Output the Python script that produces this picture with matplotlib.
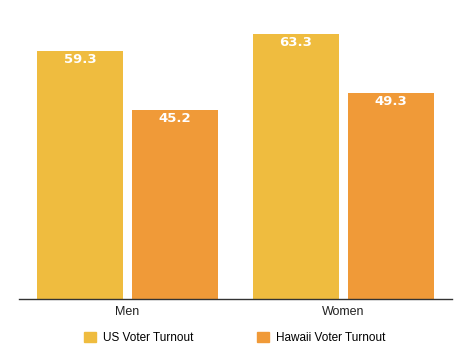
import matplotlib.pyplot as plt
import numpy as np
from matplotlib.patches import Patch

categories = ["Men", "Women"]
us_turnout = [59.3, 63.3]
hawaii_turnout = [45.2, 49.3]
series_names = ["US Voter Turnout", "Hawaii Voter Turnout"]

US_COLOR = "#EFBC3F"
HI_COLOR = "#F09A38"

plt.rcParams["font.family"] = ["Liberation Sans", "DejaVu Sans"]

fig = plt.figure(figsize=(4.74, 3.63), dpi=100)
ax = fig.add_axes([0.040, 0.176, 0.914, 0.807])

x = np.arange(len(categories))
w = 0.398
off = 0.22
b1 = ax.bar(x - off, us_turnout, w, color=US_COLOR)
b2 = ax.bar(x + off, hawaii_turnout, w, color=HI_COLOR)

# value labels, white, just inside the top of each bar
for bars, vals in [(b1, us_turnout), (b2, hawaii_turnout)]:
    for rect, v in zip(bars, vals):
        ax.text(rect.get_x() + rect.get_width() / 2, v - 2.1, f"{v:.1f}",
                ha="center", va="center", color="white", fontsize=9.5,
                fontweight="bold", family="DejaVu Sans")

ax.set_xlim(-0.502, 1.503)
ax.set_ylim(0, 70)
ax.set_xticks(x)
ax.set_xticklabels(categories, fontsize=9, color="#222222")
ax.tick_params(axis="x", length=0, pad=5)
ax.set_yticks([])
for s in ["top", "right", "left"]:
    ax.spines[s].set_visible(False)
ax.spines["bottom"].set_color("#333333")
ax.spines["bottom"].set_linewidth(1.0)

handles = [Patch(color=US_COLOR), Patch(color=HI_COLOR)]
fig.legend(handles, series_names, loc="center", bbox_to_anchor=(0.496, 0.068),
           ncol=2, frameon=False, fontsize=8.5, handlelength=0.95, handleheight=0.95,
           columnspacing=5.4, handletextpad=0.65)

fig.savefig("out.png", dpi=100)
